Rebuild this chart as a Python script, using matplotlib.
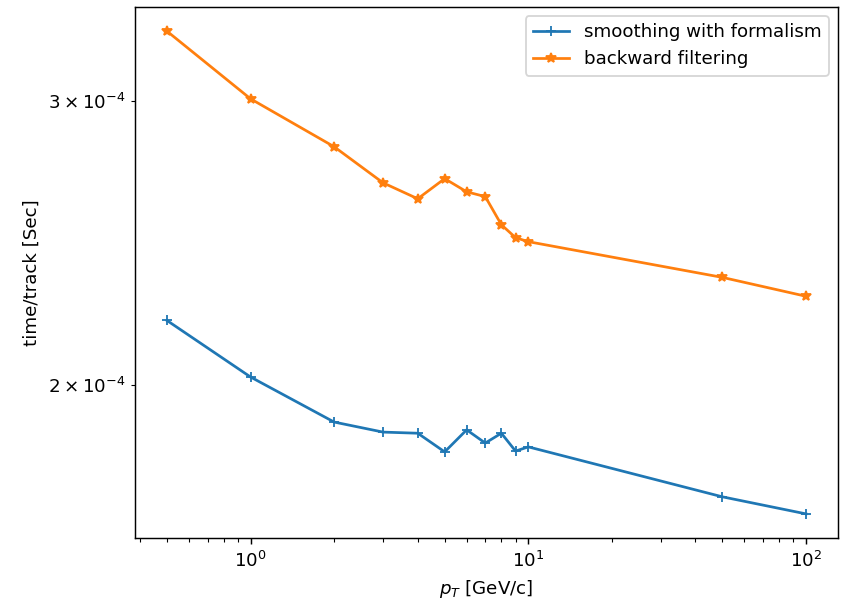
import matplotlib
matplotlib.use("Agg")
import matplotlib.pyplot as plt

# ----------------------------------
# DATA
# ----------------------------------

pt = [0.5, 1, 2, 3, 4, 5, 6, 7, 8, 9, 10, 50, 100]

smoothing = [2.193e-4, 2.023e-4, 1.897e-4, 1.870e-4, 1.867e-4, 1.818e-4,
             1.876e-4, 1.841e-4, 1.867e-4, 1.820e-4, 1.831e-4, 1.705e-4, 1.664e-4]

backward = [3.314e-4, 3.009e-4, 2.810e-4, 2.669e-4, 2.609e-4, 2.685e-4,
            2.635e-4, 2.617e-4, 2.514e-4, 2.468e-4, 2.454e-4, 2.332e-4, 2.270e-4]

# ----------------------------------
# PLOT
# ----------------------------------

dpi = 131
fig = plt.figure(figsize=(841 / dpi, 610 / dpi), dpi=dpi)
ax = fig.add_subplot(111)
fig.subplots_adjust(left=0.1605, right=0.9964, top=0.9885, bottom=0.118)

ax.plot(pt, smoothing, marker="+", label="smoothing with formalism")
ax.plot(pt, backward, marker="*", label="backward filtering")

ax.set_xscale("log")
ax.set_yscale("log")

ax.set_xlabel(r"$p_T$ [GeV/c]")
ax.set_ylabel("time/track [Sec]")
ax.legend(loc="upper right")

fig.savefig("out.png", dpi=dpi)
